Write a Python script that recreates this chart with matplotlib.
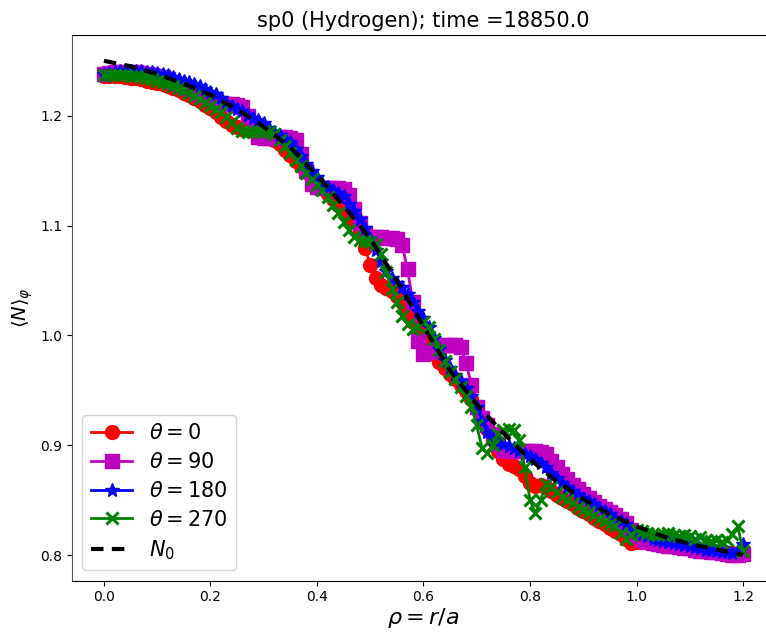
import numpy as np
import matplotlib
matplotlib.use("Agg")
import matplotlib.pyplot as plt

rho = np.round(np.arange(0, 121) * 0.01, 2)

n_theta0 = [
    1.236, 1.236, 1.236, 1.236, 1.235, 1.234, 1.234, 1.233, 1.232, 1.231,
    1.230, 1.229, 1.227, 1.225, 1.223, 1.221, 1.219, 1.216, 1.213, 1.210,
    1.207, 1.203, 1.199, 1.195, 1.192, 1.190, 1.188, 1.187, 1.186, 1.186,
    1.185, 1.182, 1.178, 1.174, 1.169, 1.164, 1.159, 1.154, 1.149, 1.144,
    1.139, 1.134, 1.129, 1.124, 1.119, 1.114, 1.109, 1.103, 1.095, 1.080,
    1.064, 1.052, 1.046, 1.043, 1.040, 1.036, 1.030, 1.022, 1.012, 1.004,
    0.997, 0.990, 0.983, 0.976, 0.970, 0.965, 0.960, 0.955, 0.949, 0.942,
    0.934, 0.925, 0.915, 0.905, 0.895, 0.887, 0.883, 0.881, 0.878, 0.872,
    0.866, 0.863, 0.864, 0.862, 0.858, 0.855, 0.852, 0.849, 0.846, 0.843,
    0.840, 0.837, 0.834, 0.831, 0.828, 0.825, 0.822, 0.819, 0.815, 0.811,
    0.812, 0.813, 0.812, 0.811, 0.810, 0.809, 0.808, 0.808, 0.807, 0.806,
    0.806, 0.805, 0.805, 0.804, 0.804, 0.803, 0.803, 0.802, 0.802, 0.801,
    0.801]

n_theta90 = [
    1.238, 1.239, 1.240, 1.240, 1.240, 1.240, 1.240, 1.239, 1.238, 1.237,
    1.236, 1.235, 1.233, 1.231, 1.229, 1.227, 1.225, 1.223, 1.220, 1.218,
    1.215, 1.213, 1.212, 1.211, 1.211, 1.210, 1.208, 1.200, 1.190, 1.181,
    1.180, 1.180, 1.180, 1.181, 1.181, 1.180, 1.178, 1.165, 1.150, 1.138,
    1.135, 1.134, 1.134, 1.134, 1.134, 1.133, 1.128, 1.115, 1.102, 1.093,
    1.090, 1.090, 1.090, 1.089, 1.089, 1.088, 1.082, 1.060, 1.030, 0.995,
    0.983, 0.985, 0.987, 0.989, 0.991, 0.991, 0.991, 0.989, 0.975, 0.955,
    0.935, 0.925, 0.918, 0.910, 0.901, 0.896, 0.895, 0.895, 0.895, 0.895,
    0.895, 0.895, 0.894, 0.892, 0.886, 0.880, 0.874, 0.869, 0.864, 0.860,
    0.856, 0.852, 0.848, 0.845, 0.842, 0.839, 0.836, 0.833, 0.829, 0.823,
    0.817, 0.814, 0.812, 0.811, 0.810, 0.809, 0.808, 0.808, 0.807, 0.806,
    0.806, 0.805, 0.804, 0.804, 0.803, 0.803, 0.802, 0.801, 0.800, 0.800,
    0.801]

n_theta180 = [
    1.238, 1.239, 1.240, 1.241, 1.241, 1.241, 1.241, 1.241, 1.240, 1.240,
    1.239, 1.238, 1.237, 1.235, 1.233, 1.232, 1.231, 1.229, 1.227, 1.224,
    1.222, 1.220, 1.216, 1.212, 1.209, 1.206, 1.204, 1.201, 1.198, 1.196,
    1.193, 1.189, 1.185, 1.182, 1.179, 1.176, 1.170, 1.163, 1.156, 1.150,
    1.144, 1.139, 1.135, 1.132, 1.130, 1.127, 1.120, 1.113, 1.106, 1.098,
    1.088, 1.078, 1.068, 1.059, 1.052, 1.048, 1.044, 1.038, 1.030, 1.022,
    1.016, 1.008, 0.998, 0.988, 0.978, 0.970, 0.964, 0.958, 0.952, 0.945,
    0.935, 0.922, 0.912, 0.906, 0.903, 0.901, 0.899, 0.897, 0.895, 0.892,
    0.890, 0.887, 0.884, 0.880, 0.875, 0.870, 0.866, 0.862, 0.858, 0.855,
    0.852, 0.849, 0.846, 0.843, 0.840, 0.837, 0.834, 0.831, 0.828, 0.824,
    0.821, 0.819, 0.817, 0.815, 0.814, 0.813, 0.812, 0.811, 0.810, 0.809,
    0.808, 0.807, 0.806, 0.805, 0.805, 0.804, 0.803, 0.803, 0.802, 0.805,
    0.810]

n_theta270 = [
    1.237, 1.237, 1.237, 1.237, 1.237, 1.236, 1.236, 1.235, 1.234, 1.233,
    1.232, 1.231, 1.229, 1.227, 1.225, 1.223, 1.221, 1.218, 1.215, 1.212,
    1.209, 1.206, 1.203, 1.199, 1.194, 1.189, 1.186, 1.185, 1.185, 1.186,
    1.186, 1.185, 1.183, 1.178, 1.172, 1.166, 1.160, 1.154, 1.148, 1.142,
    1.137, 1.132, 1.126, 1.119, 1.111, 1.103, 1.096, 1.090, 1.087, 1.086,
    1.085, 1.083, 1.074, 1.058, 1.042, 1.030, 1.018, 1.010, 1.006, 1.008,
    1.012, 1.008, 0.997, 0.987, 0.977, 0.967, 0.960, 0.953, 0.945, 0.935,
    0.918, 0.897, 0.893, 0.900, 0.910, 0.914, 0.915, 0.914, 0.905, 0.880,
    0.850, 0.838, 0.850, 0.865, 0.862, 0.857, 0.853, 0.850, 0.847, 0.844,
    0.841, 0.839, 0.836, 0.833, 0.831, 0.828, 0.826, 0.820, 0.815, 0.818,
    0.823, 0.822, 0.820, 0.819, 0.818, 0.819, 0.820, 0.818, 0.817, 0.818,
    0.817, 0.815, 0.816, 0.814, 0.813, 0.814, 0.812, 0.814, 0.819, 0.826,
    0.804]

rho_n0 = [0.00, 0.05, 0.10, 0.15, 0.20, 0.25, 0.30, 0.35, 0.40, 0.45,
          0.50, 0.55, 0.60, 0.65, 0.70, 0.75, 0.80, 0.85, 0.90, 0.95,
          1.00, 1.05, 1.10, 1.15, 1.20]
n0 = [1.250, 1.245, 1.238, 1.229, 1.219, 1.206, 1.190, 1.171, 1.146, 1.118,
      1.088, 1.050, 1.008, 0.968, 0.937, 0.911, 0.887, 0.867, 0.851, 0.837,
      0.826, 0.817, 0.810, 0.805, 0.800]

labels = [r'$\theta=0$', r'$\theta=90$', r'$\theta=180$', r'$\theta=270$', r'$N_0$']
title = 'sp0 (Hydrogen); time =18850.0'

fig = plt.figure(figsize=(7.66, 6.32), dpi=100)
ax = fig.add_axes([72 / 766, 51.3 / 632, 703 / 766, 545.7 / 632])

ax.plot(rho, n_theta0, 'r-o', lw=2, ms=10, label=labels[0])
ax.plot(rho, n_theta90, 'm-s', lw=2, ms=10, label=labels[1])
ax.plot(rho, n_theta180, 'b-*', lw=2, ms=10, label=labels[2])
ax.plot(rho, n_theta270, 'g-x', lw=2, ms=9, mew=2.2, label=labels[3])
ax.plot(rho_n0, n0, 'k--', lw=3, dashes=(3, 2), label=labels[4])

ax.set_xlim(-0.06, 1.26)
ax.set_ylim(0.7766, 1.2735)
ax.set_xticks([0.0, 0.2, 0.4, 0.6, 0.8, 1.0, 1.2])
ax.set_yticks([0.8, 0.9, 1.0, 1.1, 1.2])
ax.tick_params(labelsize=10)
ax.spines['left'].set_color('#555555')

ax.set_title(title, fontsize=15)
ax.set_xlabel(r'$\rho = r/a$', fontsize=16, labelpad=1)
ax.set_ylabel(r'$\langle N\rangle_\varphi$', fontsize=14)
ax.legend(loc='lower left', fontsize=15, labelspacing=0.42)

fig.savefig('out.png', dpi=100)
